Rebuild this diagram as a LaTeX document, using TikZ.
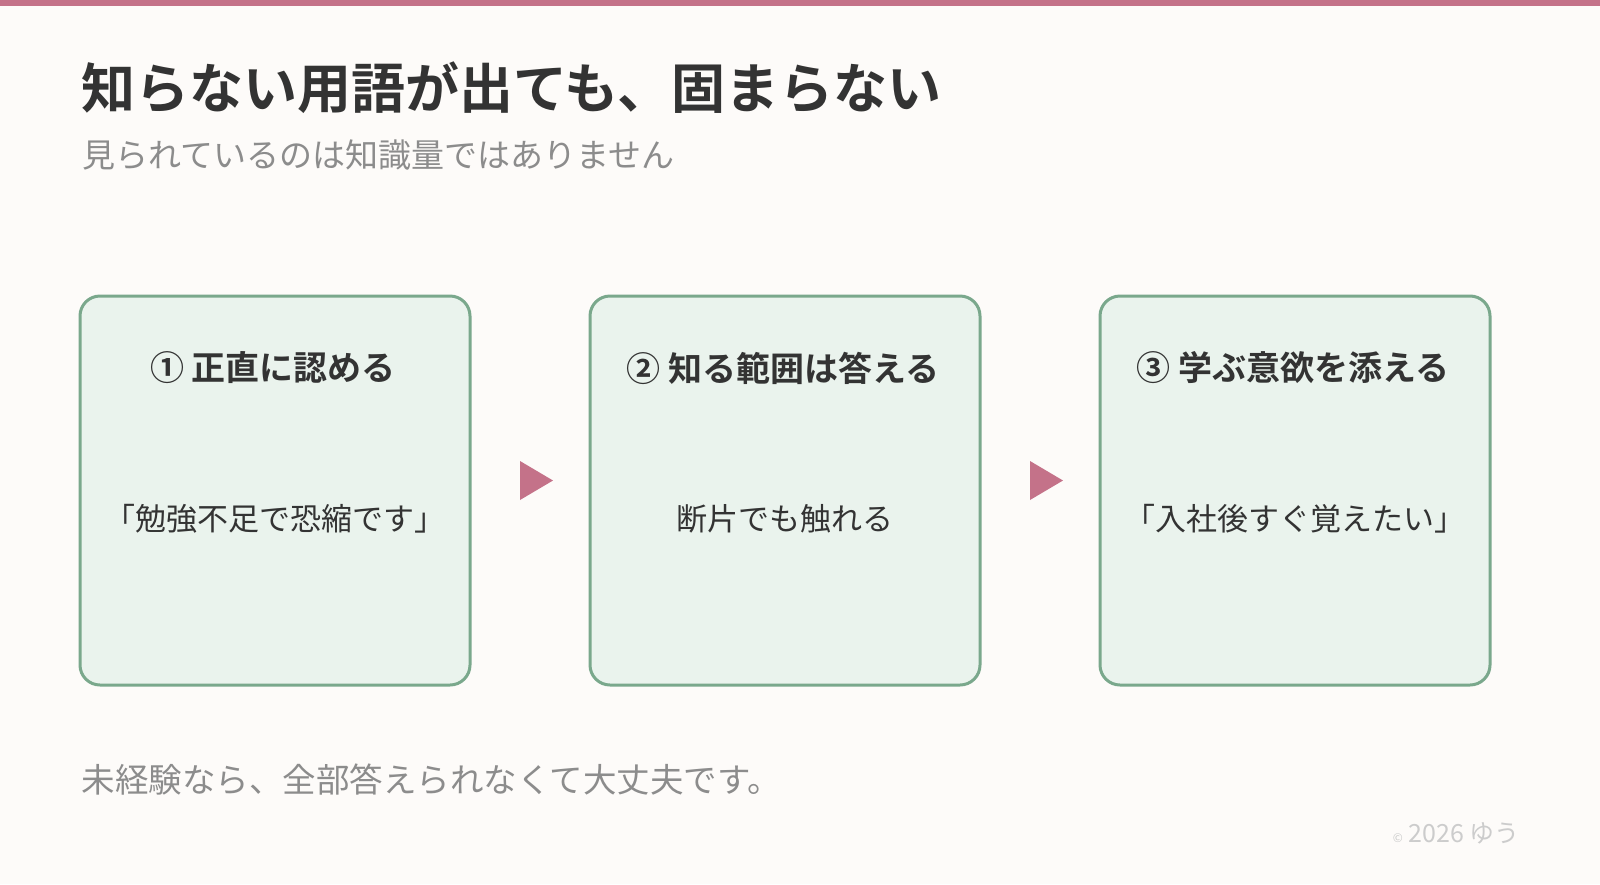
\documentclass[tikz,border=0pt]{standalone}
\usepackage{fontspec}
\setmainfont{Noto Sans CJK JP}[BoldFont={Noto Sans CJK JP Bold}]
\usetikzlibrary{positioning}
\definecolor{pinkbar}{RGB}{196,114,137}
\definecolor{bgcol}{RGB}{253,251,249}
\definecolor{boxline}{RGB}{122,168,140}
\definecolor{boxfill}{RGB}{234,243,237}
\definecolor{darktext}{RGB}{51,51,51}
\definecolor{greytext}{RGB}{140,140,140}
\tikzset{
  stepbox/.style={draw=boxline,line width=3pt,fill=boxfill,rounded corners=20pt,
    minimum width=390pt,minimum height=389pt,inner sep=0pt},
  steptitle/.style={font=\bfseries\fontsize{34}{40}\selectfont,text=darktext},
  stepbody/.style={font=\fontsize{31}{37}\selectfont,text=darktext},
  steparrow/.style={fill=pinkbar}
}
\begin{document}
\begin{tikzpicture}[x=1pt,y=1pt,yscale=-1]
\useasboundingbox (0,0) rectangle (1600,884);
\fill[bgcol] (0,0) rectangle (1600,884);
\fill[pinkbar] (0,0) rectangle (1600,6);
% headings
\node[anchor=base west,font=\bfseries\fontsize{54}{62}\selectfont,text=darktext] (title) at (78,108) {知らない用語が出ても、固まらない};
\node[anchor=base west,font=\fontsize{33}{40}\selectfont,text=greytext] (subtitle) at (79,167) {見られているのは知識量ではありません};
% steps
\node[stepbox] (box1) at (275,490.5) {};
\node[stepbox] (box2) at (785,490.5) {};
\node[stepbox] (box3) at (1295,490.5) {};
\node[steptitle] (t1) at (273,368) {① 正直に認める};
\node[steptitle] (t2) at (783,368) {② 知る範囲は答える};
\node[steptitle] (t3) at (1293,368) {③ 学ぶ意欲を添える};
\node[stepbody] (b1) at (275,519) {「勉強不足で恐縮です」};
\node[stepbody] (b2) at (785,519) {断片でも触れる};
\node[stepbody] (b3) at (1295,519) {「入社後すぐ覚えたい」};
% arrows
\foreach \xa in {520,1030}
  \fill[steparrow] (\xa,461) -- (\xa+33,480.5) -- (\xa,500) -- cycle;
% footer
\node[anchor=base west,font=\fontsize{33.5}{40}\selectfont,text=greytext] (note) at (78,792) {未経験なら、全部答えられなくて大丈夫です。};
\node[anchor=base east,font=\fontsize{25}{30}\selectfont,text=black!20] (copy) at (1523,842) {{\fontsize{12}{14}\selectfont ©} 2026 ゆう};
\end{tikzpicture}
\end{document}
